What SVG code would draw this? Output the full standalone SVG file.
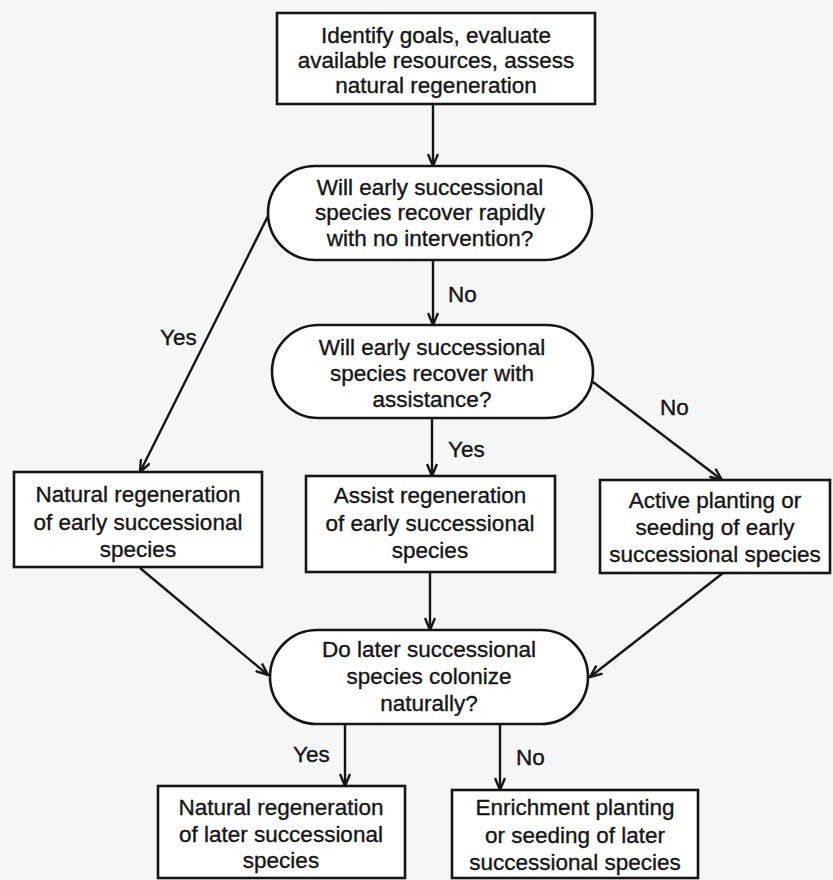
<svg xmlns="http://www.w3.org/2000/svg" width="833" height="880" viewBox="0 0 833 880">
<style>
.bg{fill:#f6f6f6}
.box{fill:#ffffff;stroke:#151515;stroke-width:2.6}
.t{font-family:"Liberation Sans",Arial,sans-serif;font-size:22.5px;fill:#151515;stroke:#151515;stroke-width:0.35;text-anchor:middle}
.lbl{font-family:"Liberation Sans",Arial,sans-serif;font-size:22.5px;fill:#151515;stroke:#151515;stroke-width:0.35}
.c{fill:none;stroke:#151515;stroke-width:2.4;marker-end:url(#ah)}
</style>
<defs>
<marker id="ah" markerUnits="userSpaceOnUse" viewBox="0 0 14 12" refX="13" refY="6" markerWidth="14" markerHeight="12" orient="auto">
<path d="M1,1 L13,6 L1,11" fill="none" stroke="#151515" stroke-width="2.4"/>
</marker>
</defs>
<rect class="bg" x="0" y="0" width="833" height="880"/>

<g id="connectors">
<line class="c" x1="433" y1="104" x2="433" y2="166"/>
<line class="c" x1="433" y1="260" x2="433" y2="325"/>
<line class="c" x1="270" y1="212" x2="140" y2="472"/>
<line class="c" x1="432" y1="418" x2="432" y2="476"/>
<line class="c" x1="593" y1="382" x2="722" y2="480"/>
<line class="c" x1="140" y1="568" x2="268" y2="675"/>
<line class="c" x1="430" y1="572" x2="430" y2="630"/>
<line class="c" x1="723" y1="573" x2="590" y2="677"/>
<line class="c" x1="345" y1="724" x2="345" y2="786"/>
<line class="c" x1="500" y1="724" x2="500" y2="790"/>
<text class="lbl" x="160" y="345">Yes</text>
<text class="lbl" x="448" y="302">No</text>
<text class="lbl" x="448" y="457">Yes</text>
<text class="lbl" x="660" y="415">No</text>
<text class="lbl" x="293" y="762">Yes</text>
<text class="lbl" x="516" y="765">No</text>
</g>

<g id="n-identify">
<rect class="box" x="277" y="13" width="318" height="91"/>
<text class="t" x="436" y="43">Identify goals, evaluate</text>
<text class="t" x="436" y="68">available resources, assess</text>
<text class="t" x="436" y="93">natural regeneration</text>
</g>

<g id="n-q1">
<rect class="box" x="268" y="166" width="324" height="94" rx="47" ry="47"/>
<text class="t" x="430" y="195">Will early successional</text>
<text class="t" x="430" y="220">species recover rapidly</text>
<text class="t" x="430" y="246">with no intervention?</text>
</g>

<g id="n-q2">
<rect class="box" x="272" y="325" width="321" height="93" rx="46.5" ry="46.5"/>
<text class="t" x="432" y="355">Will early successional</text>
<text class="t" x="432" y="381">species recover with</text>
<text class="t" x="432" y="407">assistance?</text>
</g>

<g id="n-natural-early">
<rect class="box" x="14" y="472" width="248" height="95"/>
<text class="t" x="138" y="502">Natural regeneration</text>
<text class="t" x="138" y="530">of early successional</text>
<text class="t" x="138" y="557">species</text>
</g>

<g id="n-assist-early">
<rect class="box" x="306" y="476" width="249" height="96"/>
<text class="t" x="430" y="503">Assist regeneration</text>
<text class="t" x="430" y="531">of early successional</text>
<text class="t" x="430" y="558">species</text>
</g>

<g id="n-active-early">
<rect class="box" x="600" y="480" width="230" height="93"/>
<text class="t" x="715" y="508">Active planting or</text>
<text class="t" x="715" y="535">seeding of early</text>
<text class="t" x="715" y="562">successional species</text>
</g>

<g id="n-q3">
<rect class="box" x="270" y="630" width="318" height="94" rx="47" ry="47"/>
<text class="t" x="429" y="657">Do later successional</text>
<text class="t" x="429" y="684">species colonize</text>
<text class="t" x="429" y="711">naturally?</text>
</g>

<g id="n-natural-later">
<rect class="box" x="158" y="786" width="247" height="92"/>
<text class="t" x="281" y="815">Natural regeneration</text>
<text class="t" x="281" y="842">of later successional</text>
<text class="t" x="281" y="868">species</text>
</g>

<g id="n-enrich-later">
<rect class="box" x="452" y="790" width="246" height="88"/>
<text class="t" x="575" y="815">Enrichment planting</text>
<text class="t" x="575" y="843">or seeding of later</text>
<text class="t" x="575" y="870">successional species</text>
</g>
</svg>
